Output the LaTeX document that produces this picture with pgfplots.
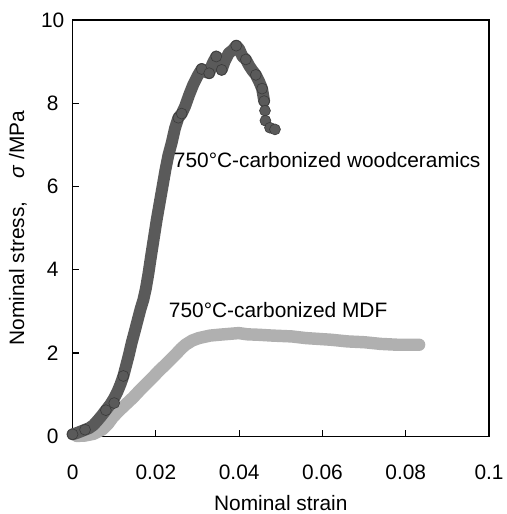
\documentclass[border=0pt]{standalone}
\usepackage{pgfplots}
\pgfplotsset{compat=1.18}
\usepackage{fontspec}
\setmainfont{Liberation Sans}
\definecolor{darkser}{HTML}{5A5A5A}
\definecolor{darkedge}{HTML}{3A3A3A}
\definecolor{lightser}{HTML}{B0B0B0}
\begin{document}
\begin{tikzpicture}
\begin{axis}[
  scale only axis, width=419pt, height=419pt,
  xmin=0, xmax=0.1, ymin=0, ymax=10,
  axis line style={line width=1.4pt},
  tick pos=left, tick align=inside,
  major tick length=6pt,
  every tick/.style={line width=1.2pt, black},
  xtick={0,0.02,0.04,0.06,0.08,0.1},
  xticklabels={0,0.02,0.04,0.06,0.08,0.1},
  ytick={0,2,4,6,8,10},
  yticklabels={0,2,4,6,8,10},
  /pgf/number format/assume math mode=true,
  tick label style={font=\fontsize{21}{25}\selectfont},
  xticklabel style={anchor=center, yshift=-36pt},
  yticklabel style={anchor=center, xshift=-20pt},
  label style={font=\fontsize{21}{25}\selectfont},
  xlabel={Nominal strain},
  ylabel={Nominal stress,\hspace{1.1em}\textit{σ} /MPa},
  xlabel style={at={(axis description cs:0.5,-0.16)}, anchor=center},
  ylabel style={at={(axis description cs:-0.131,0.5)}, anchor=center},
  clip=false,
]
% MDF (light grey band)
\addplot[lightser, line width=12.5pt, line cap=round, line join=round] coordinates {
(0.0010,0.01) (0.0030,0.02) (0.0050,0.06) (0.0072,0.17) (0.0085,0.30) (0.0096,0.45)
(0.0110,0.60) (0.0128,0.77) (0.0145,0.93) (0.0160,1.09) (0.0176,1.25) (0.0192,1.41)
(0.0208,1.58) (0.0224,1.73) (0.0236,1.85) (0.0247,1.96) (0.0260,2.10) (0.0271,2.20)
(0.0287,2.30) (0.0303,2.36) (0.0330,2.42) (0.0351,2.44) (0.0375,2.46) (0.0399,2.48)
(0.0420,2.45) (0.0446,2.44) (0.0480,2.42) (0.0526,2.40) (0.0560,2.36) (0.0621,2.32)
(0.0660,2.28) (0.0701,2.26) (0.0740,2.22) (0.0780,2.20) (0.0832,2.20)
};
% woodceramics (dark grey band)
\addplot[darkser, line width=12pt, line cap=round, line join=round] coordinates {
(0.0000,0.05) (0.0010,0.08) (0.0020,0.12) (0.0030,0.16) (0.0040,0.20) (0.0050,0.27)
(0.0060,0.38) (0.0070,0.50) (0.0080,0.63) (0.0090,0.76) (0.0100,0.92) (0.0108,1.08)
(0.0115,1.25) (0.0122,1.45) (0.0128,1.68) (0.0135,1.95) (0.0142,2.25) (0.0150,2.55)
(0.0157,2.82) (0.0163,3.05) (0.0170,3.28) (0.0176,3.55) (0.0182,3.90) (0.0188,4.30)
(0.0195,4.75) (0.0202,5.20) (0.0209,5.60) (0.0216,6.00) (0.0223,6.40) (0.0230,6.75)
(0.0238,7.05) (0.0246,7.40) (0.0254,7.65) (0.0262,7.75) (0.0270,7.92) (0.0280,8.20)
(0.0290,8.45) (0.0300,8.65) (0.0310,8.82) (0.0320,8.75) (0.0328,8.72) (0.0336,8.95)
(0.0345,9.12) (0.0352,9.05) (0.0358,8.80) (0.0365,9.00) (0.0375,9.20) (0.0385,9.28)
(0.0393,9.38) (0.0400,9.30) (0.0408,9.12) (0.0416,9.05) (0.0424,8.90) (0.0432,8.78)
(0.0440,8.68) (0.0448,8.52) (0.0455,8.35) (0.0460,8.05)
};
\addplot[only marks, mark=*, mark size=5.5pt, mark options={fill=darkser, draw=darkedge, line width=0.6pt}] coordinates {
(0.0000,0.05) (0.0030,0.16) (0.0080,0.63) (0.0100,0.80) (0.0122,1.45)
(0.0254,7.65) (0.0262,7.75) (0.0310,8.82) (0.0328,8.72) (0.0345,9.12)
(0.0358,8.80) (0.0393,9.38) (0.0416,9.05) (0.0440,8.68) (0.0455,8.35)
(0.0460,8.05) (0.0462,7.82) (0.0463,7.58) (0.0474,7.41) (0.0486,7.37)
};
\node[anchor=west, inner sep=0pt, font=\fontsize{21}{25}\selectfont] at (axis cs:0.0243,6.63) {750°C-carbonized woodceramics};
\node[anchor=west, inner sep=0pt, font=\fontsize{21}{25}\selectfont] at (axis cs:0.0231,3.04) {750°C-carbonized MDF};
\end{axis}
\path (current axis.south west) ++(-73pt,-75pt) rectangle ++(505pt,514pt);
\end{tikzpicture}
\end{document}
